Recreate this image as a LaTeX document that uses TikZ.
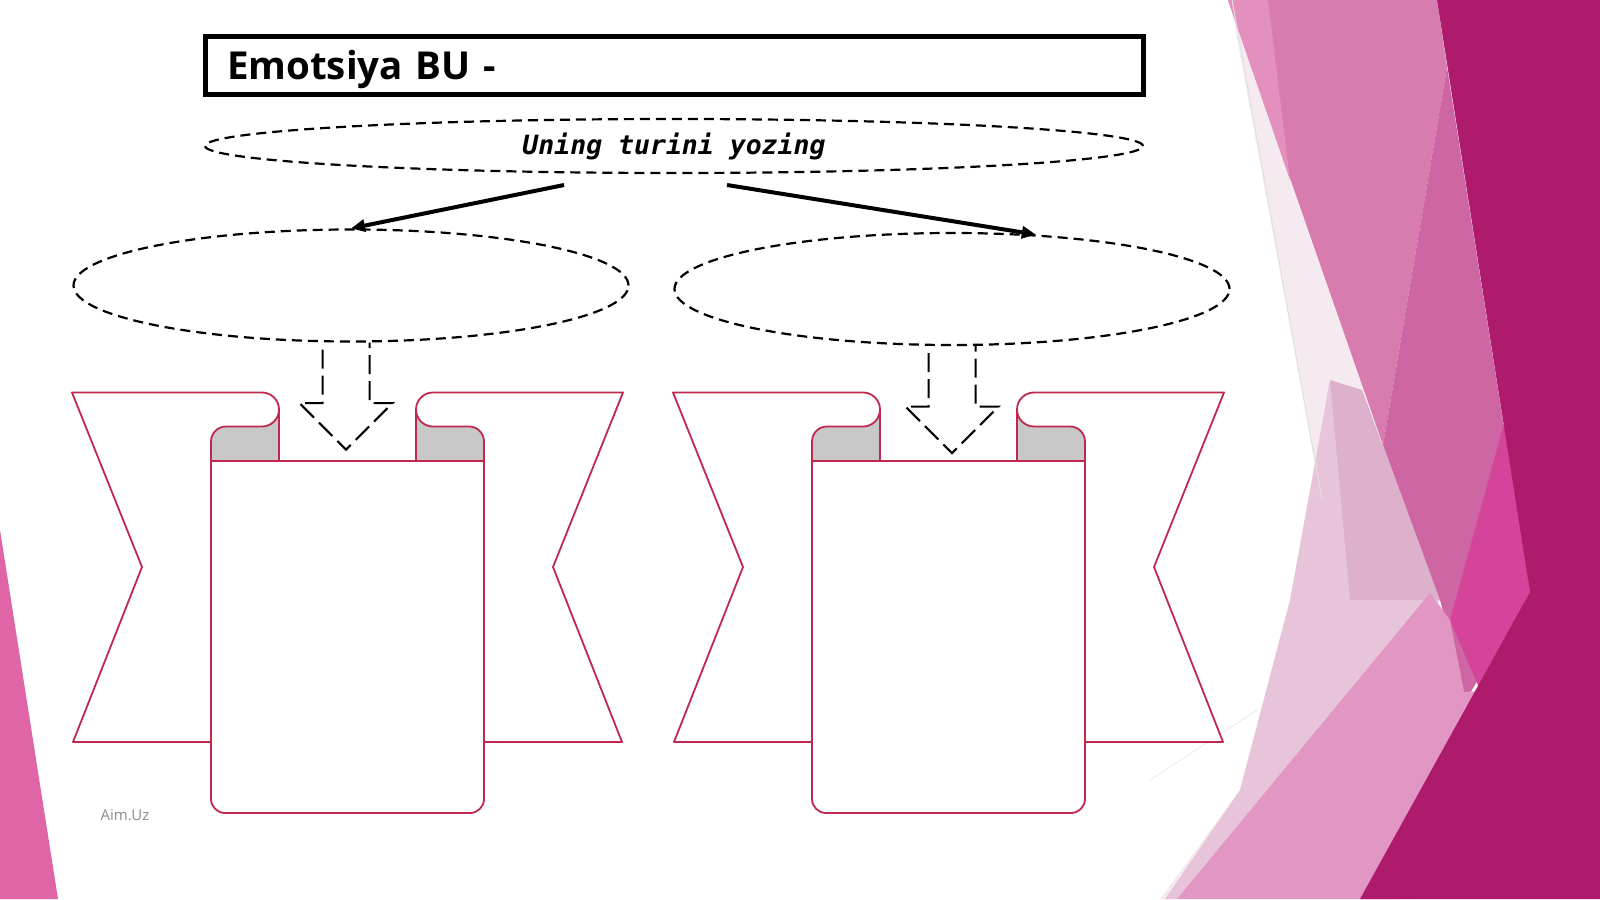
\documentclass[tikz,border=0pt]{standalone}
\usepackage{fontspec}
\setmainfont{Open Sans}
\newfontfamily\typefont{DejaVu Sans Mono}
\usetikzlibrary{shapes.geometric,arrows.meta,calc}
\definecolor{scrollred}{HTML}{C02850}
\definecolor{rollgray}{HTML}{C8C8C8}
\definecolor{facetdark}{HTML}{AE1A6C}
\definecolor{facetmid}{HTML}{D87BAE}
\definecolor{facetdeep}{HTML}{CE66A3}
\definecolor{facethot}{HTML}{D4449A}
\definecolor{facetlight}{HTML}{E196C4}
\definecolor{facetpale}{HTML}{F6EAF1}
\definecolor{facetblush}{HTML}{E8C4DA}
\definecolor{facetrose}{HTML}{DDB0CB}
\definecolor{facetsliver}{HTML}{E390BF}
\definecolor{facetleft}{HTML}{DF65A7}
\tikzset{
  oval/.style={ellipse,draw,line width=2.2pt,dash pattern=on 10pt off 6pt,inner sep=0pt},
  link/.style={line width=4pt,-{Triangle[length=14pt,width=12pt]}},
  hollow/.style={line width=2pt,dash pattern=on 19pt off 7pt,dash phase=19pt},
  scroll/.style={draw=scrollred,line width=1.8pt,line join=round},
}
\begin{document}
\begin{tikzpicture}[x=1pt,y=-1pt]
  \fill[white] (0,0) rectangle (1600,899);
  \useasboundingbox (0,0) rectangle (1600,899);
  \fill[facetleft] (0,530) -- (58,899) -- (0,899) -- cycle;
  \fill[facetpale] (1230,0) -- (1383,445) -- (1440,600) -- (1177,899) -- (1160,899) -- (1240,790) -- (1285,620) -- (1322,500) -- cycle;
  \fill[facetblush] (1330,380) -- (1383,445) -- (1440,600) -- (1177,899) -- (1165,899) -- (1240,790) -- (1290,600) -- cycle;
  \fill[facetrose] (1330,380) -- (1362,390) -- (1440,600) -- (1350,600) -- cycle;
  \fill[facetmid] (1228,0) -- (1437,0) -- (1447,67) -- (1383,445) -- cycle;
  \fill[facetsliver] (1228,0) -- (1268,0) -- (1290,180) -- cycle;
  \fill[facetdeep] (1447,67) -- (1530,592) -- (1466,700) -- (1440,600) -- (1383,445) -- cycle;
  \fill[facethot] (1505,420) -- (1530,592) -- (1480,690) -- (1450,620) -- cycle;
  \fill[facetlight] (1430,593) -- (1450,620) -- (1464,692) -- (1500,690) -- (1400,899) -- (1177,899) -- cycle;
  \fill[facetdark] (1437,0) -- (1600,0) -- (1600,899) -- (1360,899) -- (1530,592) -- cycle;
  \draw[black!12,line width=1pt] (1232,0) -- (1322,500);
  \draw[black!8,line width=0.8pt] (1150,780) -- (1257,710);
  \foreach \ox in {347.5,948.5}{
    \foreach \m in {1,-1}{
      \begin{scope}[shift={(\ox,0)},xscale=\m]
        \filldraw[scroll,fill=white] (-136.5,742) -- (-274.5,742) -- (-205.5,567) -- (-275.5,392.5) -- (-85.5,392.5)
          .. controls (-76.1,392.5) and (-68.5,400.1) .. (-68.5,409.5) -- (-68.5,461) -- (-136.5,461) -- cycle;
        \filldraw[scroll,fill=rollgray] (-68.5,409.5) .. controls (-68.5,418.9) and (-76.1,426.5) .. (-85.5,426.5)
          -- (-121.5,426.5) .. controls (-129.8,426.5) and (-136.5,433.2) .. (-136.5,441.5) -- (-136.5,461) -- (-68.5,461) -- cycle;
      \end{scope}
    }
    \begin{scope}[shift={(\ox,0)}]
      \filldraw[scroll,fill=white] (-136.5,461) -- (-136.5,799) .. controls (-136.5,806.7) and (-130.2,813) .. (-122.5,813)
        -- (122.5,813) .. controls (130.2,813) and (136.5,806.7) .. (136.5,799) -- (136.5,461) -- cycle;
    \end{scope}
  }
  \node[draw,line width=5pt,minimum width=938pt,minimum height=58pt,text width=895pt,align=left,inner xsep=21.5pt,
    text height=29pt,text depth=0pt,font=\bfseries\fontsize{38.5}{46}\selectfont] (title) at (674.5,65.5) {Emotsiya BU -};
  \node[oval,minimum width=938pt,minimum height=54pt,font=\typefont\bfseries\itshape\fontsize{26.5}{30}\selectfont]
    (types) at (674,146) {Uning turini yozing};
  \node[oval,minimum width=555pt,minimum height=112pt] (kindleft) at (351,285.5) {};
  \node[oval,minimum width=555pt,minimum height=112pt] (kindright) at (952,289) {};
  \coordinate (fromleft) at (564,185);
  \coordinate (fromright) at (727,185);
  \draw[link] (fromleft) -- (kindleft.north);
  \draw[link] (fromright) -- (kindright.33);
  \foreach \e/\dx in {kindleft/-5,kindright/0}{
    \draw[hollow] ($(\e.south)+(\dx-23.5,0)$) -- ++(0,60.5) -- ++(-23,0) -- ++(46.5,46.5) -- ++(46.5,-46.5) -- ++(-23,0) -- ++(0,-60.5);
  }
  \node[text=black!45,font=\fontsize{15}{18}\selectfont] (aim) at (125,815) {Aim.Uz};
\end{tikzpicture}
\end{document}
